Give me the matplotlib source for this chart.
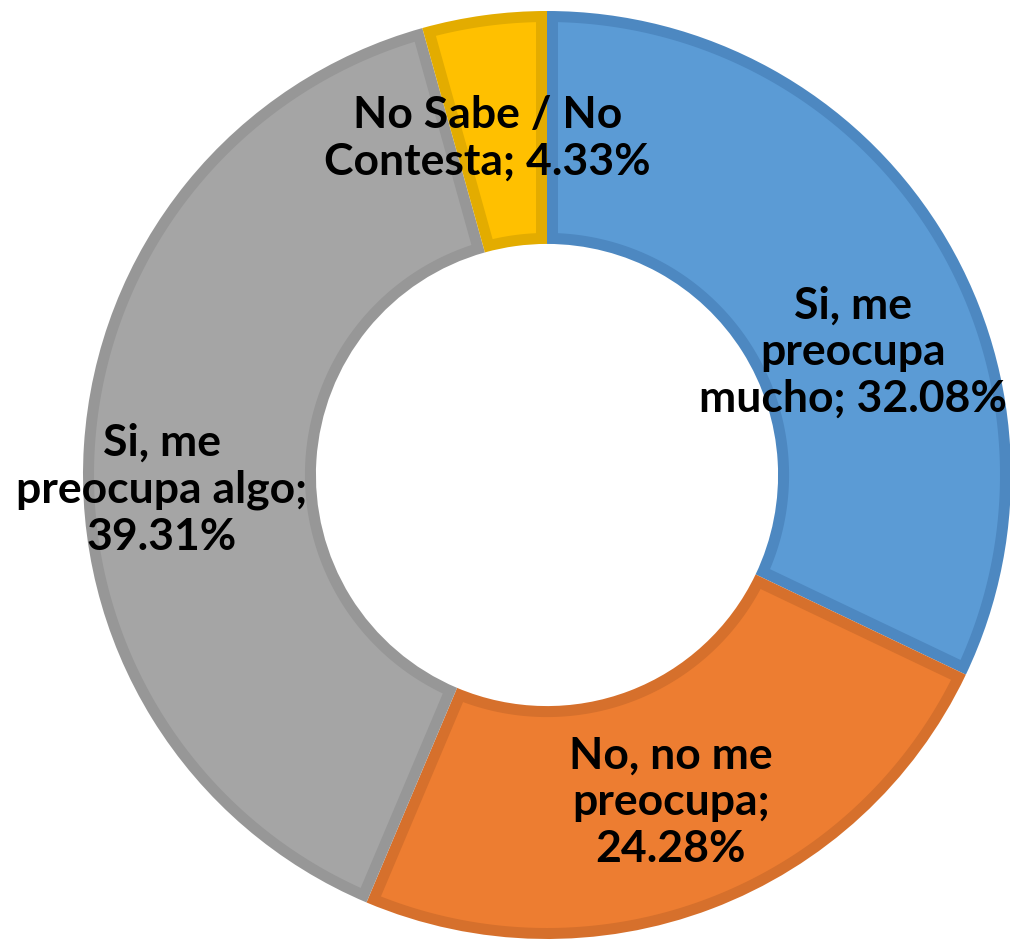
import numpy as np
import matplotlib.pyplot as plt
from matplotlib.patches import Polygon

labels = ["Si, me\npreocupa\nmucho; 32.08%", "No, no me\npreocupa;\n24.28%",
          "Si, me\npreocupa algo;\n39.31%", "No Sabe / No\nContesta; 4.33%"]
values = [32.08, 24.28, 39.31, 4.33]
colors = ["#5B9BD5", "#ED7D31", "#A5A5A5", "#FFC000"]
edges = ["#4D88C1", "#D6702C", "#979797", "#E3AC00"]

# label centres (data units, outer radius = 1)
label_pos = [(0.659, 0.265), (0.267, -0.705), (-0.830, -0.032), (-0.129, 0.726)]

px = 464.0      # pixels per data unit
cx, cy = 547, 475
ring = 0.502
border = 11 / px

fig = plt.figure(figsize=(10.1, 9.42), dpi=100)
ax = fig.add_axes([0, 0, 1, 1])

# outer wedges in the border colour, then an inset face on top of each
wedges, _ = ax.pie(values, colors=edges, startangle=90, counterclock=False,
                   radius=1.0, wedgeprops=dict(width=ring, linewidth=0))


def inset(w, d):
    r_out = w.r - d
    r_in = w.r - w.width + d
    t1, t2 = np.radians(w.theta1), np.radians(w.theta2)
    a_out = np.arcsin(d / r_out)
    a_in = np.arcsin(d / r_in)
    to = np.linspace(t1 + a_out, t2 - a_out, 200)
    ti = np.linspace(t2 - a_in, t1 + a_in, 200)
    xs = np.concatenate([r_out * np.cos(to), r_in * np.cos(ti)])
    ys = np.concatenate([r_out * np.sin(to), r_in * np.sin(ti)])
    return np.column_stack([xs, ys])


for w, c in zip(wedges, colors):
    ax.add_patch(Polygon(inset(w, border), closed=True, facecolor=c, edgecolor="none"))

for lab, (x, y) in zip(labels, label_pos):
    ax.text(x, y, lab, ha="center", va="center", fontsize=32, fontweight="bold",
            family=["Lato", "DejaVu Sans"], linespacing=1.2, color="black")

ax.set_xlim(-cx / px, (1010 - cx) / px)
ax.set_ylim((cy - 942) / px, cy / px)
ax.set_aspect("equal")
ax.axis("off")

fig.savefig("out.png", dpi=100)
